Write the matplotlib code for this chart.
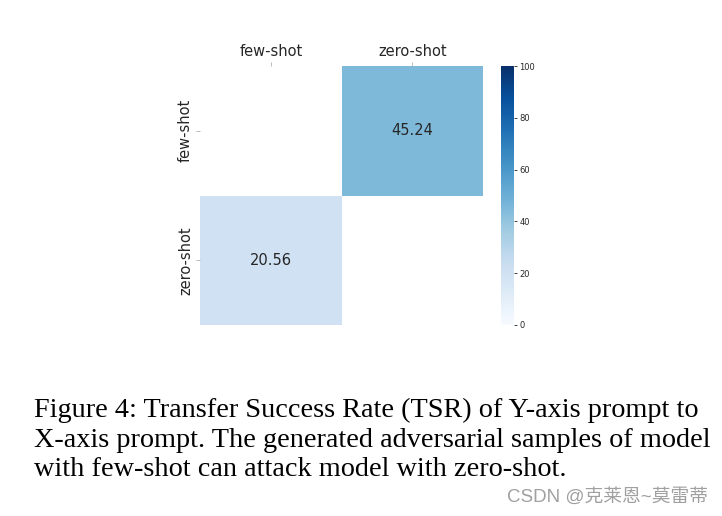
import matplotlib
matplotlib.use("Agg")
import matplotlib.pyplot as plt
import numpy as np
import seaborn as sns

labels = ["few-shot", "zero-shot"]
values = [[np.nan, 45.24],
          [20.56, np.nan]]
cbar_ticks = [0, 20, 40, 60, 80, 100]
caption_lines = ["Figure 4: Transfer Success Rate (TSR) of Y-axis prompt to",
                 "X-axis prompt. The generated adversarial samples of model",
                 "with few-shot can attack model with zero-shot."]

data = np.array(values, dtype=float)
mask = np.isnan(data)

fig = plt.figure(figsize=(7.22, 5.16), dpi=100)
ax = fig.add_axes([200/722, 1 - 325/516, 283/722, 259/516])
cax = fig.add_axes([501/722, 1 - 325/516, 13/722, 259/516])

sns.heatmap(data, mask=mask, annot=True, fmt=".2f", cmap="Blues", vmin=0, vmax=100,
            ax=ax, cbar_ax=cax, xticklabels=labels, yticklabels=labels,
            annot_kws={"fontsize": 10.5, "color": "#262626"}, linewidths=0)
ax.xaxis.tick_top()
ax.tick_params(axis="both", length=3, width=0.6, labelsize=10.5, pad=2,
               color="#b0b0b0", labelcolor="#262626")
ax.set_yticklabels(labels, rotation=90, va="center")
ax.set_xticklabels(labels, rotation=0)

cax.set_yticks(cbar_ticks)
cax.tick_params(labelsize=6, length=2, width=0.6, pad=2, color="#262626",
                labelcolor="#262626")
for s in cax.spines.values():
    s.set_visible(False)

baselines = [417, 447, 476]
for line, yb in zip(caption_lines, baselines):
    fig.text(34/722, 1 - yb/516, line, family="Liberation Serif", fontsize=20.3,
             va="baseline", ha="left", color="black")

fig.text(708/722, 1 - 497/516, "CSDN @克莱恩~莫雷蒂",
         family=["Liberation Sans", "Noto Sans CJK SC"], fontsize=13.5,
         color="#a0a0a0", ha="right", va="center")

fig.savefig("out.png", dpi=100)
